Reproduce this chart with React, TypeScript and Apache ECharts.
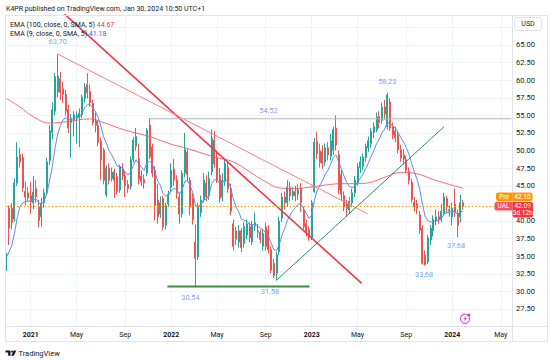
import React, { useEffect, useRef } from "react";
import * as echarts from "echarts";

const FONT = "Roboto, 'Liberation Sans', sans-serif";
const START_UTC = Date.UTC(2020, 10, 2);
const WEEKS_TOTAL = 188;
const MONTHS = ["Jan", "Feb", "Mar", "Apr", "May", "Jun", "Jul", "Aug", "Sep", "Oct", "Nov", "Dec"];

// weekly bars (Monday dates), incl. empty future weeks
const weeks: string[] = Array.from({ length: WEEKS_TOTAL }, (_, i) =>
  new Date(START_UTC + i * 7 * 86400000).toISOString().slice(0, 10)
);

// [open, close, low, high]
const ohlc: number[][] = [
  [34.0, 34.8, 32.9, 35.5], [41.8, 39.0, 36.6, 42.2], [41.8, 39.8, 38.8, 42.5], [40.3, 45.4, 39.9, 46.0],
  [45.4, 49.1, 45.0, 51.2], [49.4, 48.4, 47.6, 50.4], [49.0, 44.7, 44.1, 49.6], [44.2, 43.4, 42.2, 45.6],
  [44.0, 43.3, 42.8, 44.8], [43.6, 42.7, 41.0, 45.5], [42.6, 44.1, 41.7, 46.4], [44.6, 43.4, 42.6, 45.8],
  [42.0, 40.1, 39.1, 43.0], [40.6, 42.5, 39.2, 43.3], [42.6, 44.0, 41.9, 44.6], [44.0, 48.4, 43.6, 49.0],
  [48.6, 52.8, 48.0, 53.6], [52.6, 55.8, 51.6, 56.8], [55.6, 60.5, 55.0, 61.0], [58.3, 60.6, 57.5, 63.7],
  [60.2, 58.3, 57.2, 61.2], [58.8, 58.0, 56.8, 59.8], [58.0, 55.6, 55.0, 58.6], [55.8, 53.2, 52.5, 56.5],
  [54.0, 54.6, 49.0, 55.2], [54.3, 55.1, 52.0, 55.6], [54.6, 55.0, 51.0, 55.6], [54.8, 55.3, 50.5, 56.0],
  [55.1, 57.6, 54.6, 58.0], [57.4, 59.0, 56.8, 59.6], [59.4, 58.2, 57.4, 61.0], [58.4, 56.8, 56.2, 59.4],
  [56.7, 54.0, 53.6, 57.2], [54.2, 53.6, 52.6, 55.4], [53.6, 51.2, 50.6, 54.2], [51.3, 48.7, 45.8, 51.8],
  [50.1, 45.8, 45.2, 50.4], [43.7, 47.5, 43.4, 47.9], [47.5, 45.8, 45.2, 48.2], [46.0, 46.9, 45.6, 47.6],
  [47.0, 45.8, 43.3, 47.4], [46.3, 44.2, 43.8, 46.8], [44.4, 47.7, 44.0, 48.0], [47.4, 46.4, 45.8, 48.2],
  [46.4, 45.0, 43.4, 47.0], [45.2, 44.6, 44.0, 45.8], [44.9, 48.7, 44.5, 49.2], [48.7, 51.5, 48.3, 51.9],
  [50.6, 52.0, 50.0, 53.2], [48.8, 45.9, 45.2, 51.0], [46.4, 45.6, 45.0, 47.2], [45.9, 45.4, 44.6, 46.6],
  [46.8, 52.9, 46.4, 53.2], [53.6, 49.1, 48.8, 54.6], [50.5, 46.8, 46.2, 51.0], [47.2, 42.2, 40.1, 47.8],
  [43.0, 40.6, 39.6, 45.3], [41.0, 42.6, 40.4, 43.5], [43.2, 39.2, 38.7, 43.6], [39.4, 42.2, 38.8, 42.6],
  [42.4, 43.8, 42.0, 44.3], [44.8, 47.2, 44.2, 48.2], [47.4, 45.8, 45.0, 48.8], [45.8, 44.0, 43.2, 46.5],
  [43.4, 41.0, 39.6, 44.0], [41.0, 46.8, 40.5, 47.2], [46.8, 50.2, 46.2, 52.5], [49.8, 46.6, 45.6, 50.2],
  [45.8, 42.0, 40.8, 46.2], [43.2, 40.2, 39.5, 44.0], [37.0, 34.7, 30.54, 39.5], [34.9, 42.0, 34.5, 42.6],
  [41.2, 43.0, 40.6, 43.6], [43.0, 45.8, 42.6, 46.8], [45.4, 43.4, 42.8, 46.5], [43.6, 46.0, 43.0, 47.0],
  [47.0, 51.8, 46.5, 53.0], [51.5, 48.1, 47.6, 52.8], [49.0, 45.8, 45.4, 50.0], [46.5, 43.2, 42.6, 47.5],
  [43.4, 45.8, 42.8, 46.8], [45.6, 48.2, 45.0, 48.8], [47.6, 44.6, 44.0, 48.4], [44.6, 41.4, 40.8, 45.3],
  [39.6, 36.4, 35.8, 40.2], [38.6, 37.4, 36.6, 39.2], [37.0, 38.6, 36.2, 39.4], [38.6, 36.2, 35.6, 39.0],
  [36.8, 39.2, 36.2, 39.8], [38.0, 39.6, 37.4, 40.2], [39.2, 37.6, 37.0, 39.8], [37.0, 39.4, 36.6, 40.0],
  [39.3, 39.8, 38.6, 41.2], [38.4, 38.6, 37.6, 39.6], [38.4, 37.4, 36.8, 38.8], [36.4, 38.2, 35.8, 38.8],
  [39.2, 36.4, 35.8, 39.8], [38.7, 35.9, 35.4, 39.4], [35.9, 33.0, 32.6, 36.4], [34.0, 32.2, 31.9, 34.6],
  [32.6, 35.2, 31.58, 35.6], [35.6, 40.0, 35.2, 40.6], [40.4, 43.4, 39.8, 44.0], [43.4, 42.6, 41.6, 44.2],
  [42.6, 44.8, 42.0, 45.8], [44.8, 43.6, 42.8, 45.6], [43.6, 44.2, 43.0, 44.8], [44.2, 43.6, 42.8, 45.0],
  [43.8, 44.4, 43.0, 45.2], [44.7, 42.6, 41.3, 45.4], [41.6, 39.2, 38.8, 42.0], [39.6, 38.3, 37.8, 40.2],
  [38.8, 37.7, 37.2, 39.2], [37.6, 42.6, 37.3, 43.0], [44.2, 51.2, 44.0, 51.8], [51.3, 49.6, 48.8, 52.6],
  [50.0, 48.3, 47.6, 51.0], [49.8, 48.2, 47.4, 50.8], [48.4, 50.4, 47.8, 51.0], [50.4, 49.4, 48.6, 51.2],
  [49.2, 51.4, 48.6, 52.4], [50.0, 53.0, 49.4, 53.4], [53.2, 50.8, 50.0, 55.0], [49.4, 44.4, 43.8, 50.0],
  [46.6, 43.8, 42.8, 47.2], [43.6, 42.0, 41.4, 44.2], [42.4, 41.8, 40.6, 43.0], [41.6, 42.8, 41.0, 43.4],
  [42.6, 44.0, 42.0, 44.6], [44.0, 45.8, 43.4, 46.4], [45.4, 47.7, 45.0, 48.2], [47.6, 48.4, 46.8, 49.2],
  [47.7, 49.1, 47.2, 49.6], [49.0, 50.6, 48.4, 51.0], [50.4, 51.4, 49.8, 52.0], [51.0, 52.7, 50.4, 53.2],
  [52.6, 53.4, 51.8, 54.0], [53.0, 54.8, 52.6, 55.4], [54.8, 54.0, 53.2, 55.6], [54.3, 56.2, 53.8, 56.8],
  [56.2, 55.2, 54.4, 57.2], [53.4, 57.9, 53.0, 58.23], [56.9, 53.2, 52.8, 57.4], [53.4, 52.2, 51.6, 54.0],
  [52.8, 51.8, 51.2, 53.4], [52.2, 50.1, 49.6, 52.8], [50.1, 49.0, 48.4, 50.8], [49.4, 48.8, 48.0, 50.2],
  [48.7, 47.2, 46.8, 49.2], [47.0, 45.8, 45.2, 47.6], [45.5, 43.0, 42.6, 46.0], [42.7, 42.0, 41.4, 43.4],
  [42.4, 41.8, 41.0, 43.0], [40.9, 38.7, 38.2, 41.4], [39.0, 34.0, 33.8, 39.4], [35.2, 33.8, 33.68, 35.8],
  [34.2, 37.6, 33.9, 38.0], [37.3, 39.0, 36.6, 39.4], [38.6, 40.2, 37.8, 40.8], [40.0, 40.6, 39.4, 41.6],
  [40.6, 40.2, 39.6, 41.4], [40.2, 41.4, 39.8, 42.4], [41.1, 43.4, 40.8, 44.0], [43.2, 42.0, 41.2, 43.6],
  [41.4, 41.6, 40.6, 42.2], [40.6, 41.8, 39.4, 42.6], [42.4, 41.2, 40.6, 44.6], [41.1, 39.4, 37.68, 41.6],
  [40.6, 42.6, 39.8, 43.7], [42.6, 42.09, 41.6, 43.0],
];

// slow EMA (100): week index / value
const emaSlowIdx = [0, 5, 10, 16, 22, 31, 35, 44, 53, 61, 66, 77, 84, 90, 95, 101, 107, 112, 118, 124, 130, 135, 140, 146, 152, 158, 163, 169];
const emaSlowVal = [57.4, 56.2, 54.8, 53.9, 54.1, 54.5, 54.1, 52.9, 52.0, 50.9, 50.4, 49.1, 48.4, 47.0, 45.8, 44.7, 44.6, 44.8, 45.1, 45.3, 45.3, 45.5, 46.2, 46.9, 46.7, 45.9, 45.3, 44.67];

// drawn lines (week index, price)
const thickRedLine = [[19.5, 70.1], [131.5, 31.15]];
const thinRedLine = [[19, 63.72], [133.8, 41.0]];
const greenTrend = [[100, 31.58], [162, 53.4]];
const supportLine = [[59.6, 30.7], [112.2, 30.7]];
const resistanceLine = [[53, 54.52], [187, 54.52]];
const lastPrice = 42.1;

// price notes
const noteIdx = [19, 70, 100, 97, 141, 155, 167];
const noteVal = [63.7, 30.54, 31.58, 54.52, 58.23, 33.68, 37.68];
const noteOffsets = [[0, -12.3], [-5, 9.5], [-6.6, 11.4], [0, -8], [0, -11], [-1, 9], [-1.5, 8]];

const closes = ohlc.map((r) => r[1]);
const emaFast: number[] = [];
closes.forEach((c, i) => emaFast.push(i === 0 ? c : c * 0.2 + emaFast[i - 1] * 0.8));

const monthOf = (s: string) => parseInt(s.slice(5, 7), 10) - 1;
const isMark = (i: number) => {
  if (i <= 0 || i >= weeks.length) return false;
  const m = monthOf(weeks[i]);
  return m !== monthOf(weeks[i - 1]) && (m === 0 || m === 4 || m === 8);
};

const txt = (text: string, x: number, y: number, extra: any = {}) => ({
  type: "text",
  x,
  y,
  z: 100,
  silent: true,
  style: { text, fill: "#131722", fontSize: 7, fontFamily: FONT, verticalAlign: "middle", ...extra },
});

const lineSeries = (data: number[][], color: string, width: number, z = 4) => ({
  type: "line",
  xAxisIndex: 1,
  data,
  showSymbol: false,
  symbol: "none",
  silent: true,
  z,
  lineStyle: { color, width },
});

export default function App() {
  const ref = useRef<HTMLDivElement>(null);
  useEffect(() => {
    if (!ref.current) return;
    const chart = echarts.init(ref.current, undefined, { renderer: "svg" });
    const option: any = {
      animation: false,
      textStyle: { fontFamily: FONT },
      grid: { left: 6.35, right: 38.4, top: 15, bottom: 33.4 },
      xAxis: [
        {
          type: "category",
          data: weeks,
          boundaryGap: false,
          axisLine: { show: false },
          axisTick: { show: false },
          axisLabel: {
            interval: (i: number) => isMark(i),
            formatter: (v: string) => {
              const m = monthOf(v);
              return m === 0 ? `{y|${v.slice(0, 4)}}` : MONTHS[m];
            },
            fontSize: 7,
            color: "#131722",
            margin: 5,
            fontFamily: FONT,
            rich: { y: { fontWeight: "bold", fontSize: 7, color: "#131722", fontFamily: FONT } },
          },
          splitLine: { show: true, interval: (i: number) => isMark(i), lineStyle: { color: "#f0f3fa", width: 1 } },
        },
        { type: "value", min: 0, max: WEEKS_TOTAL - 1, show: false },
      ],
      yAxis: {
        type: "value",
        position: "right",
        min: 25,
        max: 69.26,
        interval: 2.5,
        axisLine: { show: false },
        axisTick: { show: false },
        axisLabel: {
          fontSize: 7.5,
          color: "#131722",
          margin: 4.5,
          fontFamily: FONT,
          formatter: (v: number) => (v < 26 || v > 66 || Math.abs(v - 42.5) < 0.01 ? "" : v.toFixed(2)),
        },
        splitLine: { show: true, lineStyle: { color: "#f0f3fa", width: 1 } },
      },
      series: [
        {
          type: "candlestick",
          data: ohlc,
          barWidth: 1.5,
          clip: false,
          silent: true,
          z: 2,
          itemStyle: {
            color: "#26a69a",
            color0: "#ef5350",
            borderColor: "#26a69a",
            borderColor0: "#ef5350",
            borderWidth: 1,
          },
          markLine: {
            silent: true,
            symbol: ["none", "none"],
            label: { show: false },
            lineStyle: { color: "#ff9800", type: [1.5, 2], width: 1 },
            data: [{ yAxis: lastPrice }],
          },
        },
        {
          type: "line",
          data: emaFast,
          showSymbol: false,
          symbol: "none",
          silent: true,
          z: 3,
          lineStyle: { color: "#5b8def", width: 1 },
        },
        {
          type: "line",
          xAxisIndex: 1,
          data: emaSlowIdx.map((x, k) => [x, emaSlowVal[k]]),
          smooth: 0.4,
          showSymbol: false,
          symbol: "none",
          silent: true,
          z: 3,
          lineStyle: { color: "#f7525f", width: 1, opacity: 0.85 },
        },
        lineSeries(thickRedLine, "#f23645", 1.6),
        lineSeries(thinRedLine, "#f7828a", 1),
        lineSeries(greenTrend, "#2f8a6b", 1),
        lineSeries(supportLine, "#3b8f3e", 2),
        lineSeries(resistanceLine, "#b2b5be", 1),
        {
          type: "scatter",
          xAxisIndex: 1,
          symbolSize: 1,
          silent: true,
          z: 6,
          itemStyle: { color: "rgba(0,0,0,0)" },
          data: noteIdx.map((x, k) => ({ value: [x, noteVal[k]], label: { offset: noteOffsets[k] } })),
          label: {
            show: true,
            position: "inside",
            formatter: (p: any) => p.value[1].toFixed(2).replace(".", ","),
            color: "#5b87f0",
            fontSize: 7.5,
            fontFamily: FONT,
          },
        },
      ],
      graphic: [
        { type: "rect", z: 90, silent: true, shape: { x: 5.5, y: 15.5, width: 542, height: 326 }, style: { fill: "none", stroke: "#e0e3eb", lineWidth: 1 } },
        { type: "line", z: 90, silent: true, shape: { x1: 5, y1: 326.5, x2: 548, y2: 326.5 }, style: { stroke: "#e0e3eb", lineWidth: 1 } },
        { type: "line", z: 90, silent: true, shape: { x1: 512.5, y1: 15, x2: 512.5, y2: 342 }, style: { stroke: "#e0e3eb", lineWidth: 1 } },
        txt("K4PR published on TradingView.com, Jan 30, 2024 10:50 UTC+1", 6, 8.5),
        {
          type: "text",
          x: 10,
          y: 24.5,
          z: 100,
          silent: true,
          style: {
            text: "{a|EMA (100, close, 0, SMA, 5)} {r|44.67}",
            fontSize: 7,
            fontFamily: FONT,
            verticalAlign: "middle",
            rich: {
              a: { fill: "#131722", color: "#131722", fontSize: 7, fontFamily: FONT },
              r: { fill: "#f23645", color: "#f23645", fontSize: 7, fontFamily: FONT },
            },
          },
        },
        {
          type: "text",
          x: 10,
          y: 33.5,
          z: 100,
          silent: true,
          style: {
            text: "{a|EMA (9, close, 0, SMA, 5)} {b|41.18}",
            fontSize: 7,
            fontFamily: FONT,
            verticalAlign: "middle",
            rich: {
              a: { fill: "#131722", color: "#131722", fontSize: 7, fontFamily: FONT },
              b: { fill: "#2962ff", color: "#2962ff", fontSize: 7, fontFamily: FONT },
            },
          },
        },
        { type: "rect", z: 100, silent: true, shape: { x: 514.5, y: 17.5, width: 27, height: 13, r: 3 }, style: { fill: "#ffffff", stroke: "#e0e3eb", lineWidth: 1 } },
        txt("USD", 528, 24.2, { align: "center", fontSize: 7 }),
        { type: "rect", z: 100, silent: true, shape: { x: 496, y: 192.5, width: 16.5, height: 8.5, r: [2, 0, 0, 2] }, style: { fill: "#ff9800" } },
        txt("Pre", 504.2, 196.9, { align: "center", fill: "#ffffff", fontSize: 6.5 }),
        { type: "rect", z: 100, silent: true, shape: { x: 512.5, y: 192.5, width: 20, height: 8.5, r: [0, 2, 2, 0] }, style: { fill: "#ff9800" } },
        txt("42.10", 522.5, 196.9, { align: "center", fill: "#ffffff", fontSize: 6.5 }),
        { type: "rect", z: 100, silent: true, shape: { x: 494.5, y: 202, width: 18, height: 8.5, r: [2, 0, 0, 2] }, style: { fill: "#f7525f" } },
        txt("UAL", 503.5, 206.3, { align: "center", fill: "#ffffff", fontSize: 6.5 }),
        { type: "rect", z: 100, silent: true, shape: { x: 512.5, y: 202, width: 20.5, height: 15.5, r: [0, 2, 2, 2] }, style: { fill: "#f23645" } },
        txt("42.09", 522.7, 206.1, { align: "center", fill: "#ffffff", fontSize: 6.5 }),
        txt("3d 12h", 522.7, 213.3, { align: "center", fill: "#ffffff", fontSize: 6.5 }),
        { type: "circle", z: 100, silent: true, shape: { cx: 465, cy: 318.7, r: 4.6 }, style: { fill: "#ffffff", stroke: "#cf4fe0", lineWidth: 1.1 } },
        {
          type: "polygon",
          z: 101,
          silent: true,
          shape: { points: [[466, 315.6], [463.3, 319.2], [465, 319.2], [464.2, 321.9], [466.9, 318.1], [465.2, 318.1]] },
          style: { fill: "#cf4fe0" },
        },
        { type: "circle", z: 102, silent: true, shape: { cx: 469, cy: 314.8, r: 1.3 }, style: { fill: "#f23645" } },
        {
          type: "polygon",
          z: 100,
          silent: true,
          shape: { points: [[5.5, 350.5], [10.5, 350.5], [10.5, 355.8], [8.2, 355.8], [8.2, 352.6], [5.5, 352.6]] },
          style: { fill: "#131722" },
        },
        { type: "circle", z: 100, silent: true, shape: { cx: 12.2, cy: 351.6, r: 1.1 }, style: { fill: "#131722" } },
        {
          type: "polygon",
          z: 100,
          silent: true,
          shape: { points: [[13.8, 350.5], [16.3, 350.5], [13.7, 355.8], [11.2, 355.8]] },
          style: { fill: "#131722" },
        },
        txt("TradingView", 18.5, 353.2, { fontSize: 7.5 }),
      ],
    };
    chart.setOption(option);
    return () => chart.dispose();
  }, []);
  return <div ref={ref} style={{ position: "absolute", left: 0, top: 0, width: 550, height: 360 }} />;
}
